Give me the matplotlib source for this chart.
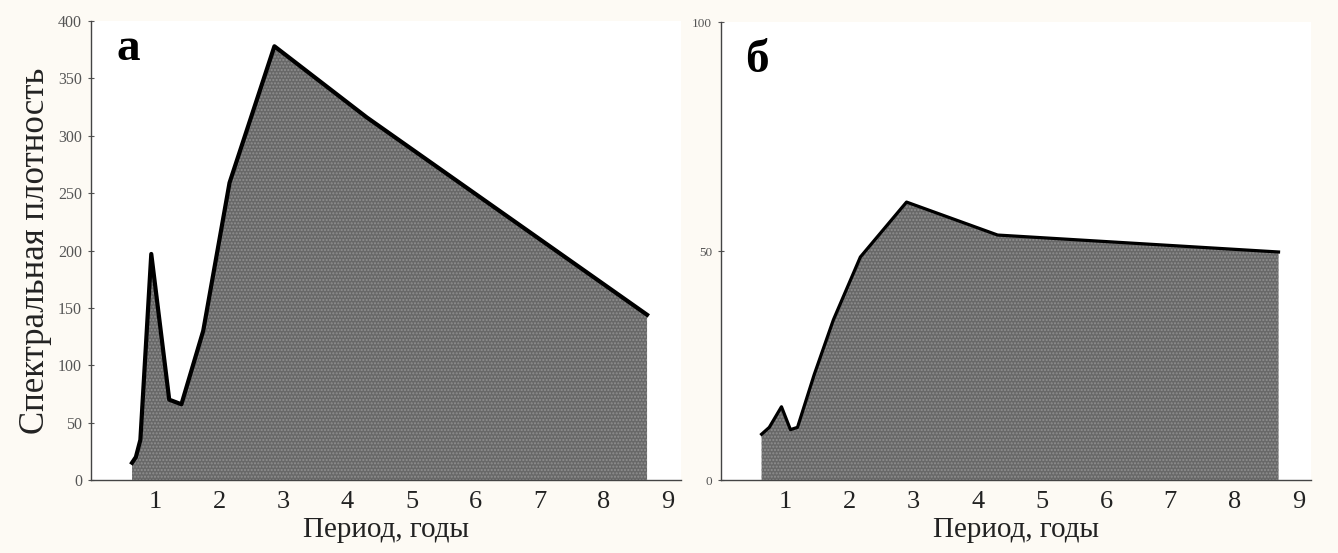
import matplotlib.pyplot as plt

plt.rcParams['font.family'] = ['Liberation Serif', 'DejaVu Serif']

# spectral density vs period, panel "а"
period_a = [0.64, 0.70, 0.77, 0.94, 1.22, 1.41, 1.75, 2.16, 2.86, 4.30, 8.67]
density_a = [15, 20, 35, 197, 70, 66, 130, 259, 378, 316, 144]

# panel "б"
period_b = [0.63, 0.75, 0.94, 1.08, 1.19, 1.45, 1.75, 2.17, 2.89, 4.31, 8.69]
density_b = [10, 11.5, 16, 11, 11.5, 23, 35, 48.7, 60.7, 53.5, 49.8]

xticks = [1, 2, 3, 4, 5, 6, 7, 8, 9]
yticks_a = [0, 50, 100, 150, 200, 250, 300, 350, 400]
yticks_b = [0, 50, 100]

fig = plt.figure(figsize=(13.38, 5.53), dpi=100, facecolor='#fdfaf4')
ax_a = fig.add_axes([0.068, 0.132, 0.441, 0.830])
ax_b = fig.add_axes([0.539, 0.132, 0.441, 0.828])


def draw_panel(ax, x, y, ymax, yticks, letter, letter_xy, ytick_size, lw):
    ax.set_facecolor('white')
    ax.fill_between(x, 0, y, facecolor='#686868', hatch='.....',
                    edgecolor='#909090', linewidth=0)
    ax.plot(x, y, color='black', lw=lw, solid_joinstyle='round')
    ax.set_xlim(0, 9.2)
    ax.set_ylim(0, ymax)
    ax.set_xticks(xticks)
    ax.set_yticks(yticks)
    ax.tick_params(axis='x', length=0, pad=8, labelsize=19, colors='#222222')
    ax.tick_params(axis='y', direction='inout', length=5, width=0.8,
                   pad=4, labelsize=ytick_size, colors='#555555')
    for side in ('top', 'right'):
        ax.spines[side].set_visible(False)
    for side in ('left', 'bottom'):
        ax.spines[side].set_color('#444444')
        ax.spines[side].set_linewidth(1.0)
    ax.set_xlabel('Период, годы', fontsize=21, color='#222222', labelpad=3)
    ax.text(letter_xy[0], letter_xy[1], letter, fontsize=34,
            fontweight='bold', ha='left', va='baseline')


draw_panel(ax_a, period_a, density_a, 400, yticks_a, 'а', (0.40, 366), 11.5, 3.0)
draw_panel(ax_b, period_b, density_b, 100, yticks_b, 'б', (0.37, 89), 9.5, 2.3)

ax_a.set_ylabel('Спектральная плотность', fontsize=25, color='#222222',
                labelpad=4)

fig.savefig('out.png', dpi=100, facecolor=fig.get_facecolor())
